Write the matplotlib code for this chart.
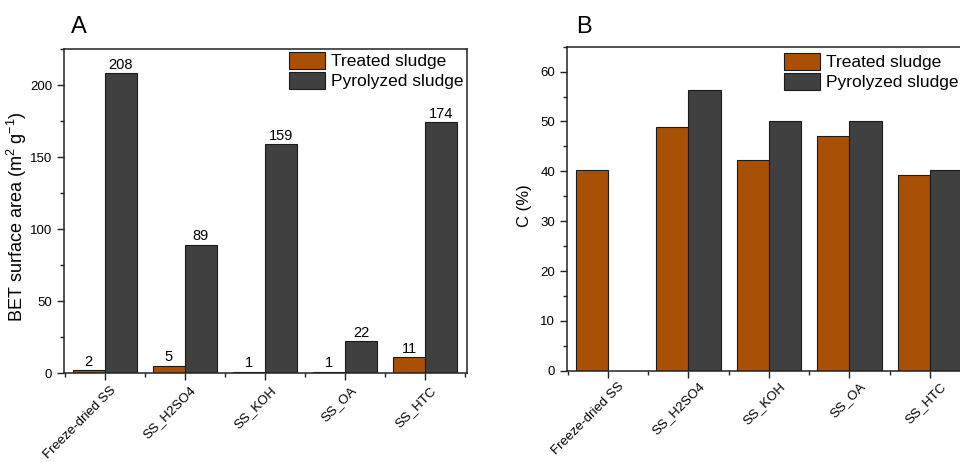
import numpy as np
import matplotlib
matplotlib.use("Agg")
import matplotlib.pyplot as plt
import matplotlib.transforms as mtransforms
from matplotlib.patches import Patch
from matplotlib.ticker import MultipleLocator, FixedLocator

plt.rcParams['font.family'] = ['Liberation Sans', 'DejaVu Sans']
plt.rcParams['mathtext.fontset'] = 'custom'
plt.rcParams['mathtext.rm'] = 'Liberation Sans'
plt.rcParams['mathtext.it'] = 'Liberation Sans:italic'
plt.rcParams['mathtext.bf'] = 'Liberation Sans:bold'
plt.rcParams['axes.unicode_minus'] = True

categories = ["Freeze-dried SS", "SS_H2SO4", "SS_KOH", "SS_OA", "SS_HTC"]
bet_treated = [2, 5, 1, 1, 11]
bet_pyrolyzed = [208, 89, 159, 22, 174]
c_treated = [40.3, 48.9, 42.3, 47.1, 39.3]
c_pyrolyzed = [np.nan, 56.3, 50.1, 50.1, 40.3]
series_names = ["Treated sludge", "Pyrolyzed sludge"]

col_t = '#A85004'
col_p = '#404040'
edge = '#1a1a1a'

fig = plt.figure(figsize=(9.6, 4.62), dpi=100)
axA = fig.add_axes([64/960, (462-373)/462, 403/960, 324/462])
axB = fig.add_axes([567/960, (462-370.7)/462, 405/960, 324/462])

x = np.arange(len(categories))
w = 0.4

def style(ax, ymax, ymajor, yminor, dx, dy):
    ax.set_xlim(-0.51, len(categories) - 1 + 0.525)
    ax.set_ylim(0, ymax)
    ax.yaxis.set_major_locator(MultipleLocator(ymajor))
    ax.yaxis.set_minor_locator(MultipleLocator(yminor))
    ax.set_xticks(x)
    ax.xaxis.set_minor_locator(FixedLocator(np.arange(-0.5, len(categories), 1.0)))
    ax.tick_params(axis='both', which='major', direction='out', length=5, width=1,
                   color='#222222')
    ax.tick_params(axis='y', which='major', labelsize=9.5)
    ax.tick_params(axis='both', which='minor', direction='out', length=3, width=1,
                   color='#222222')
    ax.tick_params(axis='x', which='major', pad=4)
    ax.set_xticklabels(categories, rotation=45, ha='right', va='top',
                       rotation_mode='anchor', fontsize=9.5)
    off = mtransforms.ScaledTranslation(dx / 100, dy / 100, fig.dpi_scale_trans)
    for lab in ax.get_xticklabels():
        lab.set_transform(lab.get_transform() + off)
    for s in ax.spines.values():
        s.set_linewidth(1.1)
        s.set_color('#222222')

# Panel A
axA.bar(x - w/2, bet_treated, w, color=col_t, edgecolor=edge, linewidth=0.8)
axA.bar(x + w/2, bet_pyrolyzed, w, color=col_p, edgecolor=edge, linewidth=0.8)
for xi, v in zip(x - w/2, bet_treated):
    axA.annotate(f"{v}", (xi, v), xytext=(0, 1), textcoords='offset points',
                 ha='center', va='bottom', fontsize=10.5)
for xi, v in zip(x + w/2, bet_pyrolyzed):
    axA.annotate(f"{v}", (xi, v), xytext=(0, 1), textcoords='offset points',
                 ha='center', va='bottom', fontsize=10.5)
style(axA, 225, 50, 25, 5, 1)
axA.set_ylabel("BET surface area (m$^{2}$ g$^{-1}$)", fontsize=13)
axA.yaxis.set_label_coords(-0.087, 0.482)

# Panel B
axB.bar(x - w/2, c_treated, w, color=col_t, edgecolor=edge, linewidth=0.8)
axB.bar(x + w/2, c_pyrolyzed, w, color=col_p, edgecolor=edge, linewidth=0.8)
style(axB, 65, 10, 5, 10, 3)
axB.set_ylabel("C (%)", fontsize=12)
axB.yaxis.set_label_coords(-0.086, 0.51)

handles = [Patch(facecolor=col_t, edgecolor=edge, linewidth=0.8),
           Patch(facecolor=col_p, edgecolor=edge, linewidth=0.8)]
for ax, bx, by in [(axA, (289-64)/403, (373-52)/324), (axB, (784-567)/405, (370.7-53)/324)]:
    ax.legend(handles, series_names, loc='upper left', bbox_to_anchor=(bx, by),
              frameon=False, fontsize=12.5, handlelength=2.1, handleheight=1.1,
              labelspacing=0.15, handletextpad=0.3, borderpad=0, borderaxespad=0)

fig.text(70.7/960, 1 - 33/462, "A", fontsize=17, ha='left', va='baseline')
fig.text(575.7/960, 1 - 33/462, "B", fontsize=17, ha='left', va='baseline')

fig.savefig("out.png", dpi=100)
